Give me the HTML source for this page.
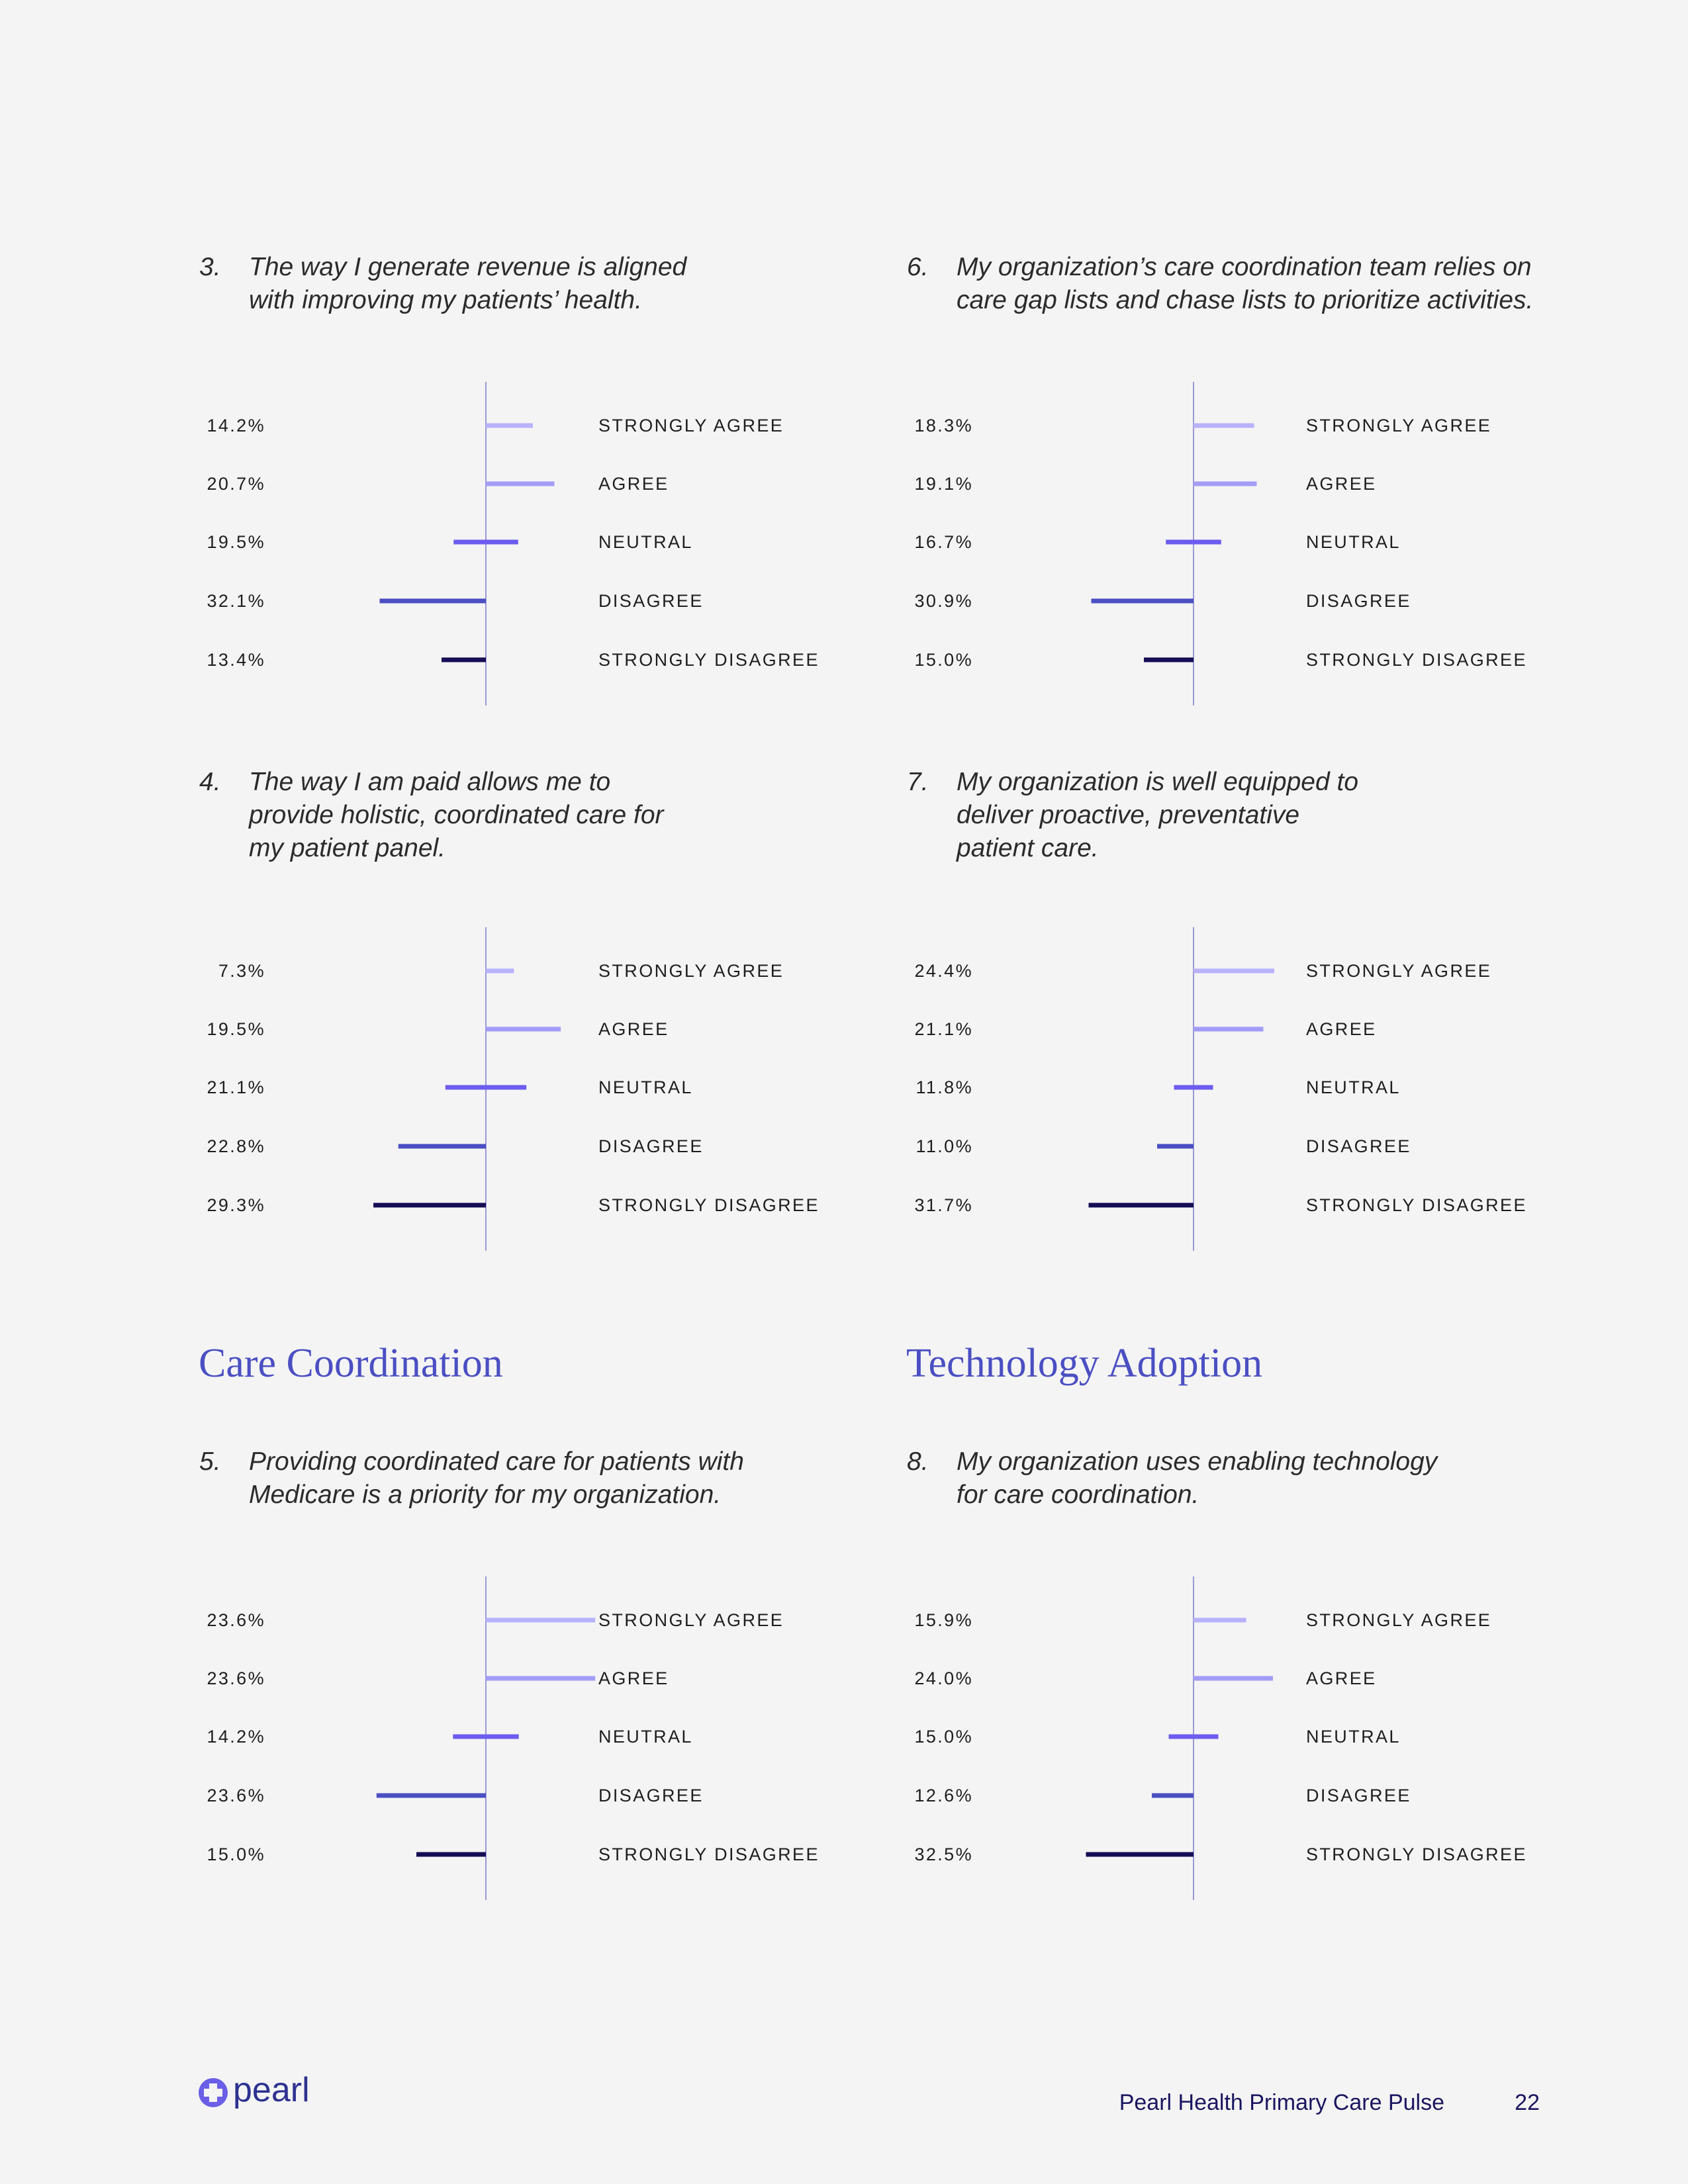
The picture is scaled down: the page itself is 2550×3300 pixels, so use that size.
<!DOCTYPE html>
<html><head><meta charset="utf-8"><style>
html,body{margin:0;padding:0;background:#f4f4f4}
svg{display:block}
.t{font-family:"Liberation Sans",sans-serif;font-style:italic;font-size:39px;fill:#2b2b2b}
.lab{font-family:"Liberation Sans",sans-serif;font-size:27px;letter-spacing:2.4px;fill:#1e1e1e}
.sec{font-family:"Liberation Serif",serif;font-size:62px;fill:#4b4fc2}
</style></head><body>
<svg id="pg" width="2550" height="3300" viewBox="0 0 2550 3300" xmlns="http://www.w3.org/2000/svg">
<rect width="2550" height="3300" fill="#f4f4f4"/>
<text class="sec" x="300" y="2080">Care Coordination</text>
<text class="sec" x="1369" y="2080">Technology Adoption</text>
<g>
<circle cx="322" cy="3162" r="22" fill="#6a5fe6"/>
<rect x="316" y="3148" width="12" height="28" fill="#f4f4f4"/>
<rect x="308" y="3156" width="28" height="12" fill="#f4f4f4"/>
<text x="352" y="3175" font-family="Liberation Sans,sans-serif" font-size="52" fill="#2d3190">pearl</text>
</g>
<text x="2182" y="3188" text-anchor="end" font-family="Liberation Sans,sans-serif" font-size="34" fill="#1a1660">Pearl Health Primary Care Pulse</text>
<text x="2326" y="3188" text-anchor="end" font-family="Liberation Sans,sans-serif" font-size="34" fill="#1a1660">22</text>
</svg>
<script>
const categories = ["STRONGLY AGREE","AGREE","NEUTRAL","DISAGREE","STRONGLY DISAGREE"];
const q3Values = [14.2,20.7,19.5,32.1,13.4];
const q6Values = [18.3,19.1,16.7,30.9,15.0];
const q4Values = [7.3,19.5,21.1,22.8,29.3];
const q7Values = [24.4,21.1,11.8,11.0,31.7];
const q5Values = [23.6,23.6,14.2,23.6,15.0];
const q8Values = [15.9,24.0,15.0,12.6,32.5];
const q3Title = ["The way I generate revenue is aligned","with improving my patients’ health."];
const q6Title = ["My organization’s care coordination team relies on","care gap lists and chase lists to prioritize activities."];
const q4Title = ["The way I am paid allows me to","provide holistic, coordinated care for","my patient panel."];
const q7Title = ["My organization is well equipped to","deliver proactive, preventative","patient care."];
const q5Title = ["Providing coordinated care for patients with","Medicare is a priority for my organization."];
const q8Title = ["My organization uses enabling technology","for care coordination."];
const colors = ["#b9b2fb","#a39cf7","#6c5cf0","#4b4fc2","#150d55"];
const NS="http://www.w3.org/2000/svg";
const pg=document.getElementById('pg');
function mk(tag,attrs,parent){const e=document.createElementNS(NS,tag);for(const k in attrs)e.setAttribute(k,attrs[k]);(parent||pg).appendChild(e);return e;}
const charts=[
 {n:"3",title:q3Title,vals:q3Values,col:0,axisTop:577,titleY:416,scale:5.0},
 {n:"6",title:q6Title,vals:q6Values,col:1,axisTop:577,titleY:416,scale:5.0},
 {n:"4",title:q4Title,vals:q4Values,col:0,axisTop:1401,titleY:1194,scale:5.8},
 {n:"7",title:q7Title,vals:q7Values,col:1,axisTop:1401,titleY:1194,scale:5.0},
 {n:"5",title:q5Title,vals:q5Values,col:0,axisTop:2382,titleY:2221,scale:7.0},
 {n:"8",title:q8Title,vals:q8Values,col:1,axisTop:2382,titleY:2221,scale:5.0}
];
const rowOff=[66,154,242,331,420];
charts.forEach(c=>{
  const ox=c.col*1069;
  const g=mk('g',{});
  
  
  const num=mk('text',{x:301+ox,y:c.titleY,class:'t'},g);num.textContent=c.n+".";
  
  
  c.title.forEach((l,i)=>{
    const t=mk('text',{x:376+ox,y:c.titleY+i*50,class:'t'},g);t.textContent=l;
    
    
  });
  const ax=734+ox;
  const axis=mk('line',{x1:ax,x2:ax,y1:c.axisTop,y2:c.axisTop+489,stroke:'#9b98d6','stroke-width':2},g);
  
  
  const xs=v=>v*c.scale;
  c.vals.forEach((v,i)=>{
    const y=c.axisTop+rowOff[i];
    let x0,w=xs(v);
    if(i<2)x0=ax;else if(i==2)x0=ax-w/2;else x0=ax-w;
    const r=mk('rect',{x:x0,y:y-3.5,width:w,height:7,fill:colors[i]},g);
    
    
    const p=mk('text',{x:401+ox,y:y,'text-anchor':'end','dominant-baseline':'central',class:'lab'},g);
    p.textContent=v.toFixed(1)+"%";
    
    
    const l=mk('text',{x:904+ox,y:y,'dominant-baseline':'central',class:'lab'},g);
    l.textContent=categories[i];
    
    
  });
});
</script>
</body></html>
